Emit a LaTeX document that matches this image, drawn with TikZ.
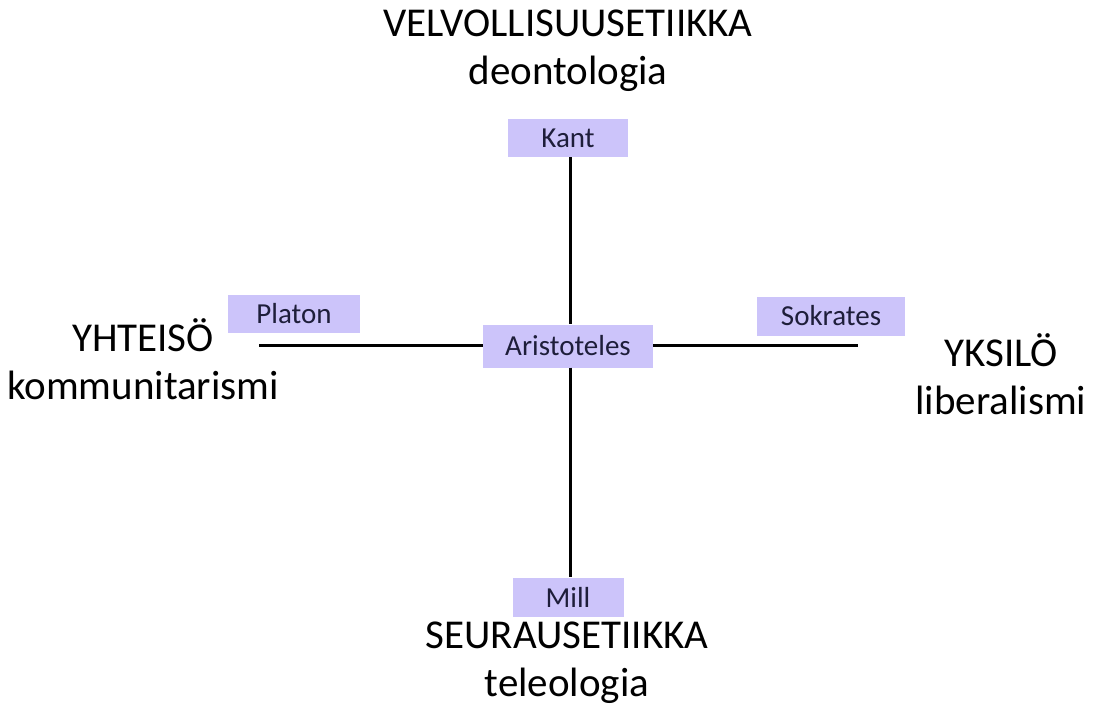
\documentclass[tikz,border=0pt]{standalone}
\usepackage{fontspec}
\setmainfont{Carlito}
\definecolor{boxfill}{HTML}{CCC4FA}
\definecolor{boxtext}{HTML}{1E1E3A}
\tikzset{
  namebox/.style={fill=boxfill, text=boxtext, inner sep=0pt, anchor=center,
    font=\fontsize{29}{34}\selectfont},
  biglabel/.style={align=center, text=black, inner sep=0pt,
    font=\fontsize{41}{48}\selectfont},
  axis/.style={line width=3pt, draw=black}
}
\begin{document}
\begin{tikzpicture}[x=1pt,y=-1pt]
\useasboundingbox (0,0) rectangle (1097,706);
\fill[white] (0,0) rectangle (1097,706);
% boxes
\node[namebox, minimum width=120pt, minimum height=38pt] (kant) at (568,138) {Kant};
\node[namebox, minimum width=132pt, minimum height=38pt] (platon) at (294,314) {Platon};
\node[namebox, minimum width=170pt, minimum height=43pt] (aris) at (568,346) {Aristoteles};
\node[namebox, minimum width=148pt, minimum height=39pt] (sok) at (831,316) {Sokrates};
\node[namebox, minimum width=111pt, minimum height=39pt] (mill) at (568,597) {Mill};
% axis end coordinates
\coordinate (lend) at (259,345);
\coordinate (rend) at (858,345);
% connectors
\draw[axis] (kant.south -| 570,0) -- (aris.north -| 570,0);
\draw[axis] (aris.south -| 570,0) -- (mill.north -| 570,0);
\draw[axis] (lend) -- (aris.west |- lend);
\draw[axis] (aris.east |- rend) -- (rend);
% labels
\node[biglabel] (top) at (568,51) {VELVOLLISUUSETIIKKA\\deontologia};
\node[biglabel] (bottom) at (567,663) {SEURAUSETIIKKA\\teleologia};
\node[biglabel] (left) at (143,359) {YHTEISÖ\\kommunitarismi};
\node[biglabel] (right) at (1001,374) {YKSILÖ\\liberalismi};
\end{tikzpicture}
\end{document}
